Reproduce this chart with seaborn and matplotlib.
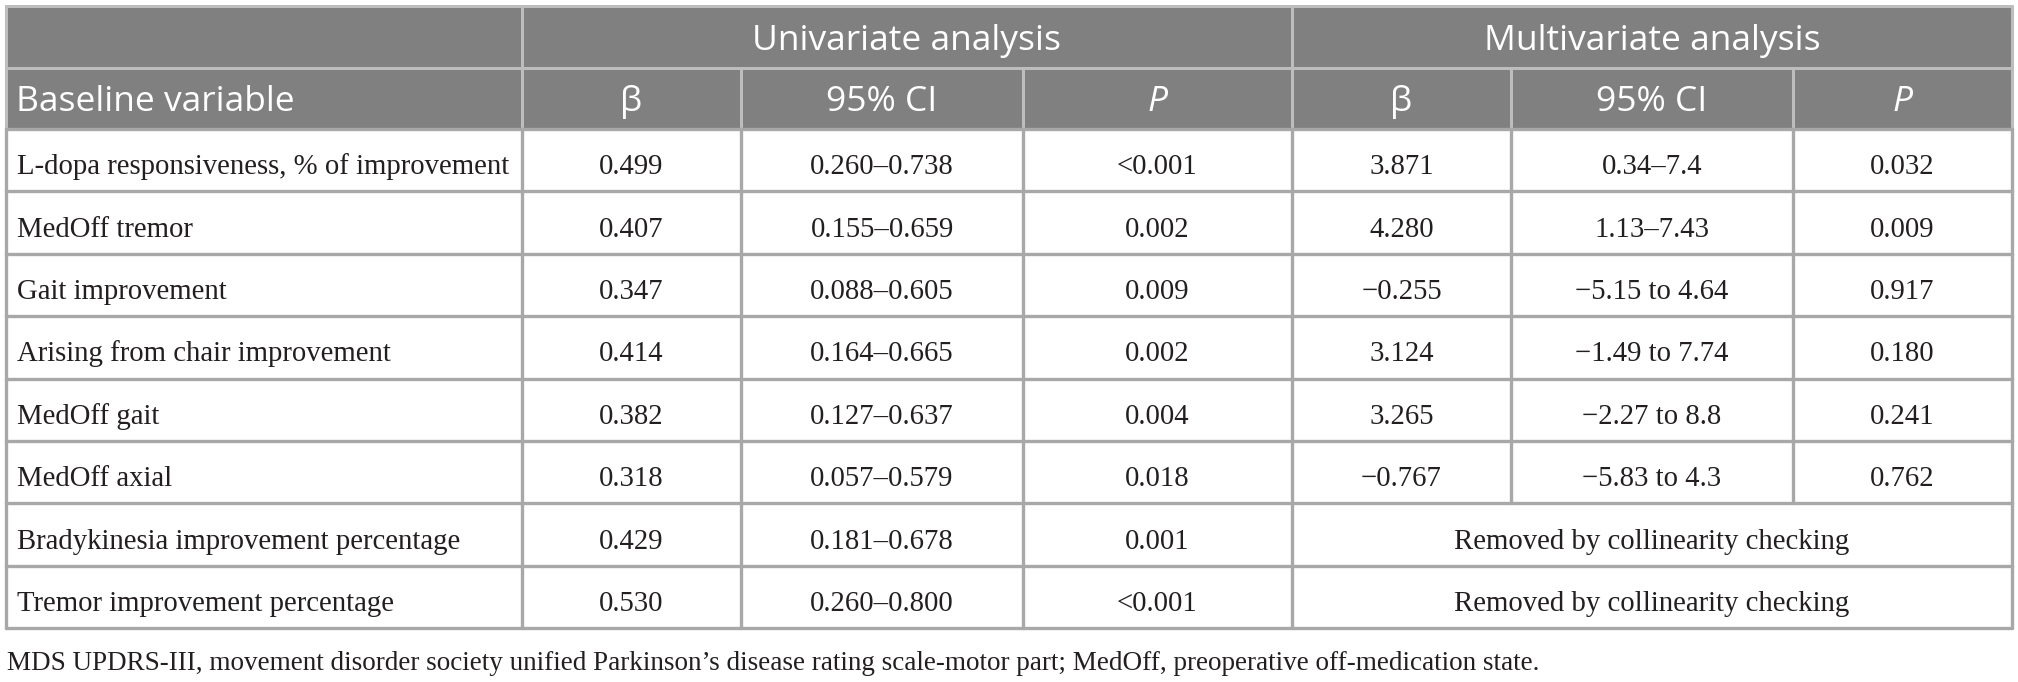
import matplotlib
matplotlib.use("Agg")
import matplotlib.pyplot as plt
from matplotlib.patches import Rectangle
import seaborn as sns

# ---------------- data ----------------
group_headers = ["Univariate analysis", "Multivariate analysis"]
column_headers = ["Baseline variable", "β", "95% CI", "P", "β", "95% CI", "P"]
variables = [
    "L-dopa responsiveness, % of improvement",
    "MedOff tremor",
    "Gait improvement",
    "Arising from chair improvement",
    "MedOff gait",
    "MedOff axial",
    "Bradykinesia improvement percentage",
    "Tremor improvement percentage",
]
uni_beta = ["0.499", "0.407", "0.347", "0.414", "0.382", "0.318", "0.429", "0.530"]
uni_ci = ["0.260–0.738", "0.155–0.659", "0.088–0.605", "0.164–0.665",
          "0.127–0.637", "0.057–0.579", "0.181–0.678", "0.260–0.800"]
uni_p = ["<0.001", "0.002", "0.009", "0.002", "0.004", "0.018", "0.001", "<0.001"]
multi_beta = ["3.871", "4.280", "−0.255", "3.124", "3.265", "−0.767", None, None]
multi_ci = ["0.34–7.4", "1.13–7.43", "−5.15 to 4.64", "−1.49 to 7.74",
            "−2.27 to 8.8", "−5.83 to 4.3", None, None]
multi_p = ["0.032", "0.009", "0.917", "0.180", "0.241", "0.762", None, None]
merged_text = "Removed by collinearity checking"
footnote = ("MDS UPDRS-III, movement disorder society unified Parkinson’s disease "
            "rating scale-motor part; MedOff, preoperative off-medication state.")

# ---------------- layout (pixels) ----------------
W, H = 2018, 682
col_edges = [6, 522, 741, 1023, 1292, 1511, 1793, 2012]
y_top, y_h1, y_h2 = 6, 68, 129
row_h = 62.4
n_rows = len(variables)
row_edges = [y_h2 + i * row_h for i in range(n_rows + 1)]

header_bg = "#808080"
header_line = "#bdbdbd"
body_line = "#a8a8a8"
text_dark = "#231f20"

sns.set_theme(style="white")
plt.rcParams["font.family"] = ["Liberation Serif", "DejaVu Serif"]

fig = plt.figure(figsize=(W / 100, H / 100), dpi=100)
ax = fig.add_axes([0, 0, 1, 1])
ax.set_xlim(0, W)
ax.set_ylim(H, 0)
ax.axis("off")

sans = ["Open Sans", "DejaVu Sans"]
serif = ["Liberation Serif", "DejaVu Serif"]
hfs = 25.5
bfs = 20.7
ffs = 19.5

# header background
ax.add_patch(Rectangle((col_edges[0], y_top), col_edges[-1] - col_edges[0], y_h2 - y_top,
                       facecolor=header_bg, edgecolor="none", zorder=1))

# header lines
lw_h = 2.2
ax.plot([col_edges[0], col_edges[-1]], [y_top, y_top], color=header_line, lw=lw_h, zorder=3)
ax.plot([col_edges[0], col_edges[-1]], [y_h1, y_h1], color=header_line, lw=lw_h, zorder=3)
for x in [col_edges[0], col_edges[1], col_edges[4], col_edges[-1]]:
    ax.plot([x, x], [y_top, y_h2], color=header_line, lw=lw_h, zorder=3)
for x in [col_edges[2], col_edges[3], col_edges[5], col_edges[6]]:
    ax.plot([x, x], [y_h1, y_h2], color=header_line, lw=lw_h, zorder=3)

# group headers
yb1 = 50
ax.text((col_edges[1] + col_edges[4]) / 2, yb1, group_headers[0],
        ha="center", va="baseline", color="white", fontsize=hfs, family=sans)
ax.text((col_edges[4] + col_edges[7]) / 2, yb1, group_headers[1],
        ha="center", va="baseline", color="white", fontsize=hfs, family=sans)

# column headers
yb2 = 111
for j, lab in enumerate(column_headers):
    style = "italic" if lab == "P" else "normal"
    if j == 0:
        ax.text(col_edges[0] + 10, yb2, lab, ha="left", va="baseline", color="white",
                fontsize=hfs, family=sans)
    else:
        ax.text((col_edges[j] + col_edges[j + 1]) / 2, yb2, lab, ha="center",
                va="baseline", color="white", fontsize=hfs, family=sans, style=style)

# body lines
lw_b = 2.4
for y in row_edges:
    ax.plot([col_edges[0], col_edges[-1]], [y, y], color=body_line, lw=lw_b, zorder=3)
for i in range(n_rows):
    y0, y1 = row_edges[i], row_edges[i + 1]
    merged = multi_beta[i] is None
    xs = col_edges if not merged else col_edges[:5] + [col_edges[-1]]
    for x in xs:
        ax.plot([x, x], [y0, y1], color=body_line, lw=lw_b, zorder=3)

# body text
for i in range(n_rows):
    yb = (row_edges[i] + row_edges[i + 1]) / 2 + 14
    ax.text(col_edges[0] + 11, yb, variables[i], ha="left", va="baseline",
            color=text_dark, fontsize=bfs, family=serif)
    vals = [uni_beta[i], uni_ci[i], uni_p[i]]
    for k, v in enumerate(vals):
        ax.text((col_edges[k + 1] + col_edges[k + 2]) / 2, yb, v, ha="center",
                va="baseline", color=text_dark, fontsize=bfs, family=serif)
    if multi_beta[i] is None:
        ax.text((col_edges[4] + col_edges[7]) / 2, yb, merged_text, ha="center",
                va="baseline", color=text_dark, fontsize=bfs, family=serif)
    else:
        vals = [multi_beta[i], multi_ci[i], multi_p[i]]
        for k, v in enumerate(vals):
            ax.text((col_edges[k + 4] + col_edges[k + 5]) / 2, yb, v, ha="center",
                    va="baseline", color=text_dark, fontsize=bfs, family=serif)

# footnote
ax.text(col_edges[0] + 1, 670, footnote, ha="left", va="baseline", color=text_dark,
        fontsize=ffs, family=serif)

fig.savefig("out.png", dpi=100, facecolor="white")
